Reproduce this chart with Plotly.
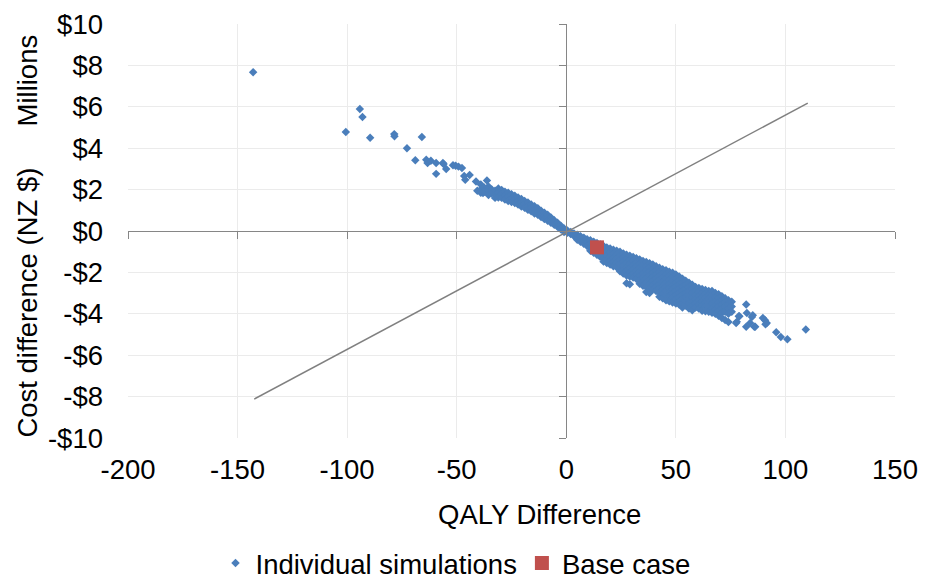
import plotly.graph_objects as go

# ---------------- data (QALY difference, cost difference in NZ$ millions) ----------------
# sparse / outlying simulations
outlier_qaly = [-142.9, -100.6, -94.2, -93.0, -89.5, -78.5, -78.4, -72.7, -68.9, -65.9,
                -63.9, -63.3, -61.8, -59.4, -59.4, -56.3, -56.0, -54.8, -51.7, -50.5,
                -49.2, -47.6, -46.6, -46.1, -44.1, -41.2, -40.6, -38.0, -36.2,
                77.5, 77.8, 78.7, 79.0, 82.1, 82.4, 82.1, 83.9, 84.7, 85.1, 85.8, 86.2,
                89.7, 90.7, 91.5, 90.9, 95.8, 97.9, 100.9, 109.3]
outlier_cost = [7.67, 4.78, 5.89, 5.51, 4.50, 4.68, 4.58, 4.00, 3.42, 4.54,
                3.44, 3.28, 3.39, 3.28, 2.76, 3.28, 3.24, 3.00, 3.18, 3.15,
                3.11, 3.04, 2.66, 2.47, 2.71, 2.39, 1.94, 1.83, 2.44,
                -4.44, -4.39, -4.12, -4.12, -3.55, -3.96, -4.63, -4.44, -4.15, -4.07, -4.63, -4.63,
                -4.20, -4.31, -4.45, -4.50, -4.89, -5.12, -5.23, -4.76]

# dense band of simulations, read column by column
band_qaly = [-39, -37.5, -35.5, -34, -32.5, -31, -29.5, -28, -26.5, -25, -23.5, -22, -20.5,
             -19, -17.5, -16, -14.5, -13, -11.5, -10, -8.5, -7, -5.5, -4, -2.5, -1, 0.5, 2,
             3.5, 5, 6.5, 8, 9.5, 11, 12.5, 14, 15.5, 17, 18.5, 20, 21.5, 23, 24.5, 26,
             27.5, 29, 30.5, 32, 33.5, 35, 36.5, 38, 39.5, 41, 42.5, 44, 45.5, 47, 48.5,
             50, 51.5, 53, 54.5, 56, 57.5, 59, 60.5, 62, 63.5, 65, 66.5, 68, 69.5, 71,
             72.5, 74, 75.5]
band_cost = [
    [2.25, 2.0, 1.85], [2.1, 1.9], [2.15, 1.95, 1.74], [2.0, 1.82], [1.95, 1.75, 1.6],
    [2.05, 1.85, 1.62], [1.98, 1.8, 1.6], [1.9, 1.72, 1.52], [1.85, 1.65, 1.45],
    [1.78, 1.6, 1.4], [1.7, 1.52, 1.35], [1.62, 1.45, 1.28], [1.55, 1.38, 1.18],
    [1.45, 1.3, 1.12], [1.38, 1.2, 1.02], [1.28, 1.12, 0.95], [1.2, 1.02, 0.85],
    [1.1, 0.92, 0.78], [0.98, 0.82, 0.68], [0.88, 0.72, 0.58], [0.78, 0.62, 0.5],
    [0.65, 0.5, 0.4], [0.52, 0.4, 0.3], [0.4, 0.28, 0.2], [0.26, 0.16, 0.08],
    [0.12, 0.03, -0.05], [0.02, -0.08], [-0.05, -0.15], [-0.12, -0.24],
    [-0.18, -0.32, -0.42], [-0.25, -0.4, -0.52], [-0.32, -0.48, -0.62],
    [-0.4, -0.55, -0.72], [-0.45, -0.62, -0.8, -0.95], [-0.52, -0.7, -0.88, -1.05],
    [-0.58, -0.78, -0.98, -1.15], [-0.65, -0.85, -1.05, -1.25],
    [-0.72, -0.92, -1.12, -1.32, -1.48], [-0.8, -1.0, -1.2, -1.4, -1.55],
    [-0.85, -1.05, -1.25, -1.45, -1.62], [-0.9, -1.1, -1.3, -1.5, -1.7],
    [-0.95, -1.15, -1.35, -1.55, -1.75], [-1.0, -1.2, -1.4, -1.6, -1.8, -1.95],
    [-1.08, -1.28, -1.48, -1.68, -1.88, -2.05],
    [-1.15, -1.35, -1.55, -1.75, -1.95, -2.15, -2.52],
    [-1.2, -1.4, -1.6, -1.8, -2.0, -2.2, -2.57],
    [-1.25, -1.45, -1.65, -1.85, -2.05, -2.25],
    [-1.32, -1.52, -1.72, -1.92, -2.12, -2.32],
    [-1.38, -1.58, -1.78, -1.98, -2.18, -2.38, -2.55],
    [-1.45, -1.65, -1.85, -2.05, -2.25, -2.45, -2.65],
    [-1.5, -1.7, -1.9, -2.1, -2.3, -2.5, -2.7, -2.95],
    [-1.56, -1.76, -1.96, -2.16, -2.36, -2.56, -2.76, -3.0],
    [-1.62, -1.82, -2.02, -2.22, -2.42, -2.62, -2.82],
    [-1.7, -1.9, -2.1, -2.3, -2.5, -2.7, -2.9],
    [-1.78, -1.98, -2.18, -2.38, -2.58, -2.78, -2.98, -3.18],
    [-1.85, -2.05, -2.25, -2.45, -2.65, -2.85, -3.05, -3.25],
    [-1.9, -2.1, -2.3, -2.5, -2.7, -2.9, -3.1, -3.35],
    [-1.97, -2.17, -2.37, -2.57, -2.77, -2.97, -3.17, -3.4],
    [-2.02, -2.22, -2.42, -2.62, -2.82, -3.02, -3.22, -3.45],
    [-2.1, -2.3, -2.5, -2.7, -2.9, -3.1, -3.3, -3.5],
    [-2.2, -2.4, -2.6, -2.8, -3.0, -3.2, -3.4, -3.55],
    [-2.3, -2.5, -2.7, -2.9, -3.1, -3.3, -3.5, -3.7],
    [-2.4, -2.6, -2.8, -3.0, -3.2, -3.4, -3.6],
    [-2.5, -2.7, -2.9, -3.1, -3.3, -3.5, -3.75],
    [-2.6, -2.8, -3.0, -3.2, -3.4, -3.6, -3.83],
    [-2.7, -2.9, -3.1, -3.3, -3.5, -3.7],
    [-2.75, -2.95, -3.15, -3.35, -3.55, -3.75],
    [-2.8, -3.0, -3.2, -3.4, -3.6, -3.85],
    [-2.85, -3.05, -3.25, -3.45, -3.65, -3.88],
    [-2.9, -3.1, -3.3, -3.5, -3.7, -3.9],
    [-2.9, -3.1, -3.3, -3.5, -3.75, -3.95],
    [-3.0, -3.2, -3.4, -3.6, -3.8, -4.0],
    [-3.05, -3.25, -3.45, -3.65, -3.85, -4.1],
    [-3.15, -3.35, -3.55, -3.75, -3.95, -4.2],
    [-3.25, -3.45, -3.65, -3.9, -4.3],
    [-3.35, -3.55, -3.75, -4.0, -4.4],
    [-3.42, -3.65, -3.9],
]

base_qaly = [14.0]
base_cost = [-0.79]

threshold_qaly = [-142.4, 110.2]
threshold_cost = [-8.12, 6.18]

x_ticks = [-200, -150, -100, -50, 0, 50, 100, 150]
x_tick_text = ["-200", "-150", "-100", "-50", "0", "50", "100", "150"]
y_ticks = [-10, -8, -6, -4, -2, 0, 2, 4, 6, 8, 10]
y_tick_text = ["-$10", "-$8", "-$6", "-$4", "-$2", "$0", "$2", "$4", "$6", "$8", "$10"]

# ---------------- build ----------------
sim_qaly = list(outlier_qaly)
sim_cost = list(outlier_cost)
for q, costs in zip(band_qaly, band_cost):
    for c in costs:
        sim_qaly.append(q)
        sim_cost.append(c)

FONT = "Liberation Sans, Arial, sans-serif"
FS = 27.5
BLUE = "#4A7EBB"
RED = "#C0504D"
AXIS = "#868686"
GRID = "#EBEBEB"

fig = go.Figure()
fig.add_trace(go.Scatter(
    x=sim_qaly, y=sim_cost, mode="markers", name="Individual simulations",
    marker=dict(symbol="diamond", size=6.5, color=BLUE, line=dict(width=0)),
    xaxis="x", yaxis="y"))
fig.add_trace(go.Scatter(
    x=threshold_qaly, y=threshold_cost, mode="lines", showlegend=False,
    line=dict(color="#808080", width=1.5), xaxis="x2", yaxis="y2"))
fig.add_trace(go.Scatter(
    x=base_qaly, y=base_cost, mode="markers", name="Base case",
    marker=dict(symbol="square", size=14, color=RED, line=dict(width=0)),
    xaxis="x2", yaxis="y2"))

fig.update_layout(
    width=932, height=579,
    margin=dict(l=128, r=37, t=24, b=141, autoexpand=False),
    paper_bgcolor="white", plot_bgcolor="white",
    font=dict(family=FONT, size=FS, color="#000000"),
    showlegend=True,
    legend=dict(orientation="h", x=0.427, xanchor="center", y=-0.302, yanchor="middle",
                font=dict(size=FS), itemwidth=30, bgcolor="rgba(0,0,0,0)"),
    xaxis=dict(range=[-200, 150], tickvals=x_ticks, ticktext=x_tick_text,
               showgrid=True, gridcolor=GRID, gridwidth=1, zeroline=False,
               showline=False, ticks="", ticklabelstandoff=12, automargin=False,
               tickfont=dict(size=FS)),
    yaxis=dict(range=[-10, 10], tickvals=y_ticks, ticktext=y_tick_text,
               showgrid=True, gridcolor=GRID, gridwidth=1, zeroline=False,
               showline=False, ticks="", ticklabelstandoff=24, automargin=False,
               tickfont=dict(size=FS)),
    xaxis2=dict(range=[-200, 150], overlaying="x", anchor="free", position=0.5,
                side="bottom", tickvals=x_ticks, showticklabels=False, automargin=False,
                showgrid=False, zeroline=False, showline=True, linecolor=AXIS,
                linewidth=1.3, ticks="outside", ticklen=7, tickcolor=AXIS, tickwidth=1.3),
    yaxis2=dict(range=[-10, 10], overlaying="y", anchor="free", position=200 / 350,
                side="left", tickvals=y_ticks, showticklabels=False, automargin=False,
                showgrid=False, zeroline=False, showline=True, linecolor=AXIS,
                linewidth=1.3, ticks="outside", ticklen=7, tickcolor=AXIS, tickwidth=1.3),
    annotations=[
        dict(text="QALY Difference", xref="paper", yref="paper", x=0.536, y=-0.185,
             xanchor="center", yanchor="middle", showarrow=False, font=dict(size=FS)),
        dict(text="Cost difference (NZ $)", xref="paper", yref="paper", x=-0.1304, y=0.327,
             xanchor="center", yanchor="middle", textangle=-90, showarrow=False,
             font=dict(size=FS)),
        dict(text="Millions", xref="paper", yref="paper", x=-0.1304, y=0.8635,
             xanchor="center", yanchor="middle", textangle=-90, showarrow=False,
             font=dict(size=FS)),
    ],
)

fig.write_html("out.html", config={"displayModeBar": False},
               post_script="document.body.style.margin='0';document.body.style.overflow='hidden';")
